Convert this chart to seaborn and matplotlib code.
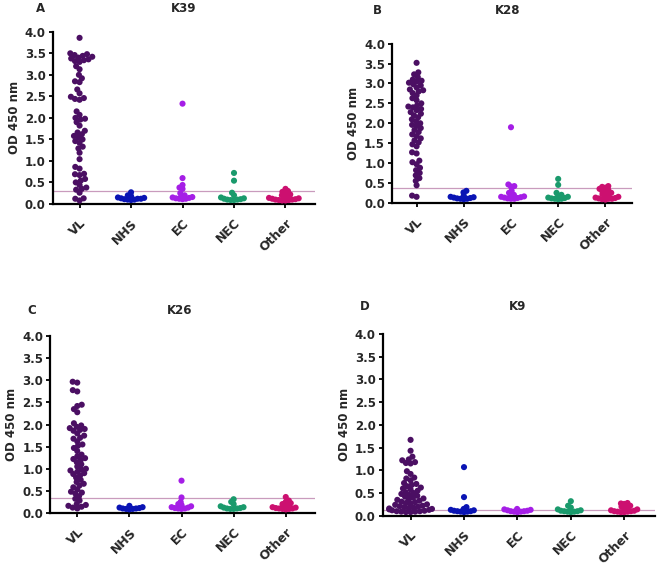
import matplotlib
matplotlib.use("Agg")
import matplotlib.pyplot as plt
import seaborn as sns
import pandas as pd

groups = ["VL", "NHS", "EC", "NEC", "Other"]
colors = ["#4b0f63", "#0a14b4", "#a51ee6", "#1a9a6c", "#cc1070"]

# panel A - K39
k39_vl = [3.86, 3.50, 3.48, 3.46, 3.44, 3.42, 3.40, 3.38, 3.36, 3.34, 3.32, 3.30,
          3.20, 3.13, 3.00, 2.92, 2.85, 2.83, 2.66, 2.57, 2.49, 2.46, 2.44, 2.42, 2.15,
          2.07, 2.00, 1.98, 1.96, 1.90, 1.82, 1.70, 1.66, 1.62, 1.58, 1.55, 1.50, 1.46,
          1.42, 1.33, 1.29, 1.19, 1.04, 0.86, 0.82, 0.70, 0.69, 0.67, 0.58, 0.54, 0.50,
          0.44, 0.38, 0.35, 0.33, 0.26, 0.13, 0.12, 0.08]
k39_nhs = [0.27, 0.20, 0.18, 0.15, 0.14, 0.13, 0.12, 0.12, 0.11, 0.10, 0.10, 0.09]
k39_ec = [2.33, 0.60, 0.44, 0.38, 0.35, 0.25, 0.20, 0.18, 0.16, 0.15, 0.14, 0.13, 0.12, 0.12, 0.11]
k39_nec = [0.72, 0.54, 0.26, 0.20, 0.15, 0.13, 0.12, 0.11, 0.10, 0.10, 0.09, 0.09]
k39_other = [0.35, 0.30, 0.28, 0.25, 0.22, 0.20, 0.18, 0.15, 0.14, 0.13, 0.12, 0.11,
             0.10, 0.10, 0.09, 0.09, 0.08, 0.08]
k39_cut = 0.29

# panel B - K28
k28_vl = [3.52, 3.28, 3.23, 3.16, 3.10, 3.07, 3.05, 3.02, 2.98, 2.95, 2.90, 2.85, 2.83,
          2.80, 2.76, 2.70, 2.63, 2.58, 2.50, 2.45, 2.42, 2.40, 2.36, 2.33, 2.28, 2.24,
          2.20, 2.15, 2.10, 2.05, 2.00, 1.96, 1.93, 1.88, 1.83, 1.78, 1.72, 1.68, 1.62,
          1.57, 1.52, 1.47, 1.42, 1.27, 1.24, 1.06, 1.02, 0.97, 0.88, 0.82, 0.75, 0.69,
          0.62, 0.55, 0.44, 0.18, 0.15]
k28_nhs = [0.30, 0.26, 0.18, 0.15, 0.14, 0.13, 0.12, 0.11, 0.10, 0.10, 0.09]
k28_ec = [1.90, 0.46, 0.42, 0.41, 0.30, 0.25, 0.20, 0.18, 0.16, 0.15, 0.14, 0.13, 0.12,
          0.11, 0.10, 0.10]
k28_nec = [0.60, 0.45, 0.25, 0.20, 0.18, 0.15, 0.13, 0.12, 0.11, 0.10, 0.10, 0.09]
k28_other = [0.42, 0.40, 0.38, 0.35, 0.32, 0.30, 0.28, 0.25, 0.22, 0.20, 0.18, 0.15,
             0.13, 0.12, 0.11, 0.10, 0.10, 0.09, 0.08]
k28_cut = 0.38

# panel C - K26
k26_vl = [2.97, 2.95, 2.78, 2.75, 2.45, 2.42, 2.35, 2.28, 2.03, 1.98, 1.95, 1.92, 1.90,
          1.88, 1.86, 1.80, 1.75, 1.70, 1.68, 1.62, 1.55, 1.52, 1.47, 1.40, 1.32, 1.28,
          1.24, 1.22, 1.20, 1.15, 1.10, 1.05, 1.00, 0.98, 0.96, 0.93, 0.90, 0.88, 0.85,
          0.80, 0.75, 0.70, 0.66, 0.62, 0.58, 0.53, 0.48, 0.46, 0.44, 0.38, 0.32, 0.28,
          0.20, 0.18, 0.16, 0.14, 0.12, 0.10]
k26_nhs = [0.16, 0.13, 0.12, 0.11, 0.10, 0.10, 0.09, 0.09, 0.08]
k26_ec = [0.73, 0.35, 0.25, 0.20, 0.18, 0.15, 0.13, 0.12, 0.11, 0.10, 0.10, 0.09]
k26_nec = [0.31, 0.25, 0.20, 0.15, 0.13, 0.12, 0.11, 0.10, 0.10, 0.09, 0.09]
k26_other = [0.36, 0.28, 0.25, 0.22, 0.20, 0.18, 0.15, 0.13, 0.12, 0.11, 0.10, 0.10,
             0.09, 0.09, 0.08]
k26_cut = 0.33

# panel D - K9
k9_vl = [1.67, 1.43, 1.30, 1.24, 1.22, 1.18, 1.16, 1.15, 0.98, 0.92, 0.84, 0.82, 0.78,
         0.72, 0.70, 0.68, 0.65, 0.62, 0.60, 0.58, 0.55, 0.52, 0.50, 0.48, 0.46, 0.44,
         0.42, 0.40, 0.38, 0.36, 0.35, 0.33, 0.31, 0.30, 0.28, 0.27, 0.25, 0.24, 0.22,
         0.21, 0.20, 0.19, 0.18, 0.17, 0.16, 0.15, 0.14, 0.13, 0.12, 0.11, 0.10, 0.10,
         0.09, 0.09, 0.08, 0.08]
k9_nhs = [1.07, 0.41, 0.19, 0.15, 0.13, 0.12, 0.11, 0.10, 0.10, 0.09, 0.09, 0.08]
k9_ec = [0.15, 0.14, 0.13, 0.12, 0.11, 0.10, 0.10, 0.09, 0.09, 0.08]
k9_nec = [0.32, 0.22, 0.18, 0.14, 0.12, 0.11, 0.10, 0.10, 0.09, 0.09, 0.08]
k9_other = [0.28, 0.27, 0.26, 0.22, 0.20, 0.18, 0.16, 0.14, 0.12, 0.11, 0.10, 0.10,
            0.09, 0.09, 0.08, 0.08]
k9_cut = 0.125

panels = [
    ("A", "K39", [k39_vl, k39_nhs, k39_ec, k39_nec, k39_other], k39_cut,
     [0.080, 0.641, 0.397, 0.303], (40, 8), (184, 8)),
    ("B", "K28", [k28_vl, k28_nhs, k28_ec, k28_nec, k28_other], k28_cut,
     [0.594, 0.643, 0.364, 0.280], (377, 10), (508, 10)),
    ("C", "K26", [k26_vl, k26_nhs, k26_ec, k26_nec, k26_other], k26_cut,
     [0.076, 0.097, 0.402, 0.311], (32, 310), (180, 310)),
    ("D", "K9", [k9_vl, k9_nhs, k9_ec, k9_nec, k9_other], k9_cut,
     [0.580, 0.092, 0.412, 0.320], (365, 307), (518, 307)),
]

sns.set_style("ticks")
plt.rcParams["font.family"] = ["DejaVu Sans"]
plt.rcParams["font.weight"] = "bold"

fig = plt.figure(figsize=(6.6, 5.68), dpi=100)
axes = []

for letter, title, vals, cut, rect, lpos, tpos in panels:
    rows = []
    for g, v in zip(groups, vals):
        for x in v:
            rows.append((g, x))
    df = pd.DataFrame(rows, columns=["group", "od"])

    ax = fig.add_axes(rect)
    sns.swarmplot(data=df, x="group", y="od", hue="group", order=groups,
                  hue_order=groups, palette=colors, size=3.0, legend=False,
                  warn_thresh=1, ax=ax, zorder=3)
    # layout sizes: the swarm is packed tighter than the final dots so they overlap
    for coll in ax.collections:
        if coll.get_offsets()[:, 0].mean() < 0.5:
            coll.set_sizes([3.2 ** 2])
        else:
            coll.set_sizes([2.3 ** 2])
    ax.axhline(cut, color="#c99bbd", lw=0.9, zorder=2)

    ax.set_xlim(-0.52, 4.57)
    ax.set_ylim(0, 4.0)
    ax.set_yticks([0, 0.5, 1.0, 1.5, 2.0, 2.5, 3.0, 3.5, 4.0])
    ax.set_yticklabels([f"{t:.1f}" for t in ax.get_yticks()],
                       fontsize=8.5, fontweight="bold")
    ax.set_xticks(range(len(groups)))
    ax.set_xticklabels(groups, rotation=45, ha="right", rotation_mode="anchor",
                       fontsize=9, fontweight="bold")
    ax.set_xlabel("")
    ax.set_ylabel("OD 450 nm", fontsize=8.5, fontweight="bold", labelpad=3)
    ax.tick_params(axis="both", width=1.3, length=3, pad=2, color="black")
    ax.tick_params(axis="x", pad=6)
    for s in ["left", "bottom"]:
        ax.spines[s].set_linewidth(1.6)
        ax.spines[s].set_color("black")
    sns.despine(ax=ax)
    axes.append(ax)

    fig.text(lpos[0] / 660, 1 - lpos[1] / 568, letter, fontsize=8.5,
             fontweight="bold", ha="center", va="center")
    fig.text(tpos[0] / 660, 1 - tpos[1] / 568, title, fontsize=8.5,
             fontweight="bold", ha="center", va="center")

fig.canvas.draw()
for ax in axes:
    for coll in ax.collections:
        if "draw" in coll.__dict__:
            del coll.__dict__["draw"]
            coll.set_sizes([4.4 ** 2])

fig.savefig("out.png", dpi=100)
